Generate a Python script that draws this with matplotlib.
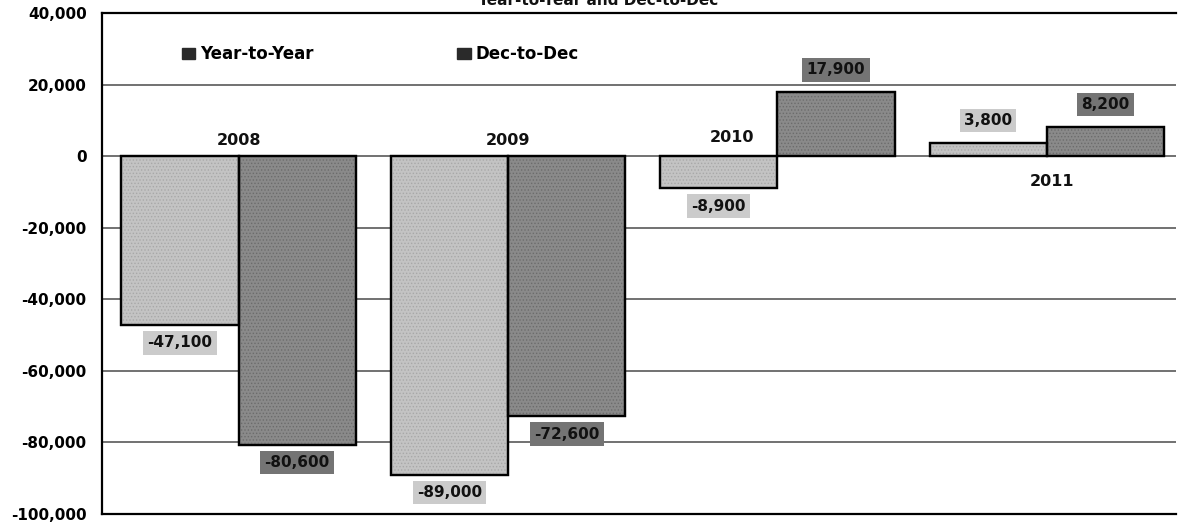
import matplotlib
matplotlib.use("Agg")
import matplotlib.pyplot as plt
from matplotlib.patches import Patch
from matplotlib.ticker import FuncFormatter, MultipleLocator
import numpy as np

plt.rcParams['font.family'] = ['DejaVu Sans']
plt.rcParams['font.weight'] = 'bold'
plt.rcParams['hatch.linewidth'] = 0.6

# Employment change by year, two measures
years = ['2008', '2009', '2010', '2011']
year_to_year = [-47100, -89000, -8900, 3800]
dec_to_dec = [-80600, -72600, 17900, 8200]
series_names = ['Year-to-Year', 'Dec-to-Dec']
title = 'Year-to-Year and Dec-to-Dec'

light_fill, dark_fill = '#c3c3c3', '#8a8a8a'
light_box, dark_box = '#cbcbcb', '#747474'

fig = plt.figure(figsize=(11.78, 5.24), dpi=100)
W, H = 1178, 524
ax = fig.add_axes([102 / W, (H - 514) / H, (1176 - 102) / W, (514 - 13) / H])

x = np.arange(len(years))
bw = 0.435

for vals, off, fc, hc in [(year_to_year, -bw / 2, light_fill, '#a8a8a8'),
                          (dec_to_dec, bw / 2, dark_fill, '#6c6c6c')]:
    ax.bar(x + off, vals, width=bw, color=fc, edgecolor='black',
           linewidth=1.6, zorder=3)
    # stippled print texture
    ax.bar(x + off, vals, width=bw, facecolor='none', edgecolor=hc,
           hatch='.....', linewidth=0, zorder=3.5)
    ax.bar(x + off, vals, width=bw, facecolor='none', edgecolor='black',
           linewidth=1.6, zorder=4)

# value labels in shaded boxes
for vals, off, bc in [(year_to_year, -bw / 2, light_box),
                      (dec_to_dec, bw / 2, dark_box)]:
    for xi, v in zip(x, vals):
        dy = 16 if v > 0 else -13
        ax.annotate(f'{v:,}', (xi + off, v), xytext=(0, dy),
                    textcoords='offset points', ha='center', va='center',
                    fontsize=11, fontweight='bold', color='#111111', zorder=6,
                    bbox=dict(boxstyle='square,pad=0.28', fc=bc, ec='none'))

# year labels
year_pos = [(0, 4500), (1, 4500), (1.83, 5200), (3.02, -7000)]
for lab, (xp, yp) in zip(years, year_pos):
    ax.text(xp, yp, lab, ha='center', va='center', fontsize=11.5,
            fontweight='bold', color='#111111', zorder=6)

ax.set_xlim(-0.507, 3.48)
ax.set_ylim(-100000, 40000)
ax.yaxis.set_major_locator(MultipleLocator(20000))
ax.yaxis.set_major_formatter(FuncFormatter(lambda v, p: f'{v:,.0f}'))
ax.set_xticks([])
ax.tick_params(axis='y', length=0, pad=11, labelsize=11)
for t in ax.get_yticklabels():
    t.set_fontweight('bold')
ax.grid(axis='y', color='#4a4a4a', linewidth=1.1, zorder=1)
ax.set_axisbelow(True)
for s in ['left', 'top', 'bottom']:
    ax.spines[s].set_linewidth(1.6)
    ax.spines[s].set_color('black')
ax.spines['right'].set_visible(False)

handles = [Patch(facecolor='#2a2a2a', edgecolor='#2a2a2a'),
           Patch(facecolor='#2a2a2a', edgecolor='#2a2a2a')]
ax.legend(handles, series_names, loc='center left', ncol=2,
          bbox_to_anchor=(0.0745, 1 - (54 - 13) / 501), frameon=False,
          borderpad=0, borderaxespad=0, handlelength=0.8, handleheight=0.65,
          handletextpad=0.3, columnspacing=8.6,
          prop={'size': 12, 'weight': 'bold'})

fig.text(598 / W, 1 - 5 / H, title, ha='center', va='baseline',
         fontsize=11, fontweight='bold', color='#111111')

fig.savefig('out.png', dpi=100)
